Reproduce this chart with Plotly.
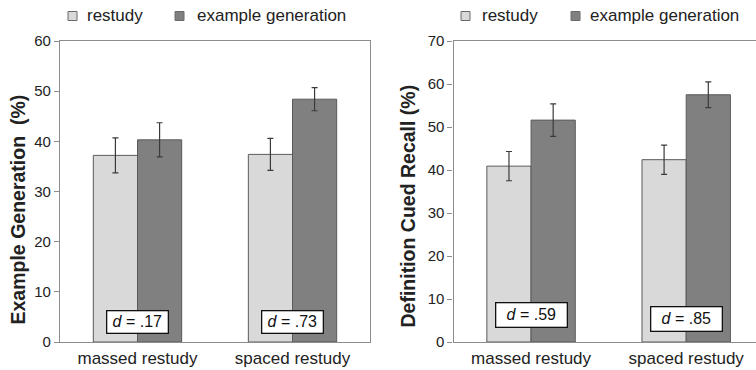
import plotly.graph_objects as go

categories = ["massed restudy", "spaced restudy"]
series_names = ["restudy", "example generation"]

gen_restudy = [37.2, 37.4]
gen_restudy_err = [3.5, 3.2]
gen_example = [40.3, 48.4]
gen_example_err = [3.4, 2.3]

rec_restudy = [40.9, 42.4]
rec_restudy_err = [3.4, 3.4]
rec_example = [51.6, 57.5]
rec_example_err = [3.8, 3.0]

gen_d_labels = ["<i>d</i> = .17", "<i>d</i> = .73"]
gen_d_y = [4.0, 4.0]
rec_d_labels = ["<i>d</i> = .59", "<i>d</i> = .85"]
rec_d_y = [6.3, 5.4]

y_titles = ["<b>Example Generation  (%)</b>", "<b>Definition Cued Recall (%)</b>"]

light = "#d9d9d9"
dark = "#808080"
edge = "#5a5a5a"
errc = "#3a3a3a"
font = "Liberation Sans, Arial, sans-serif"
txt = "#222222"

W, H = 756, 370
MT, MB = 41, 28
PH = H - MT - MB

def px_x(x):
    return x / W

def px_y(y):
    return (H - MB - y) / PH

fig = go.Figure()

def add_bar(x, y, err, name, color, xa, ya):
    fig.add_trace(go.Bar(
        x=x, y=y, name=name, marker=dict(color=color, line=dict(color=edge, width=1)),
        error_y=dict(type="data", array=err, color=errc, thickness=1.2, width=3),
        xaxis=xa, yaxis=ya, showlegend=False, hoverinfo="skip",
    ))

add_bar(categories, gen_restudy, gen_restudy_err, series_names[0], light, "x", "y")
add_bar(categories, gen_example, gen_example_err, series_names[1], dark, "x", "y")
add_bar(categories, rec_restudy, rec_restudy_err, series_names[0], light, "x2", "y2")
add_bar(categories, rec_example, rec_example_err, series_names[1], dark, "x2", "y2")

axis_line = dict(showline=True, linecolor="#8c8c8c", linewidth=1.3, showgrid=False, zeroline=False)
yticks = dict(ticks="outside", ticklen=5, tickcolor="#8c8c8c")

fig.update_layout(
    width=W, height=H,
    margin=dict(l=0, r=0, t=MT, b=MB, autoexpand=False),
    paper_bgcolor="white", plot_bgcolor="white",
    barmode="group", bargap=0.43, bargroupgap=0,
    font=dict(family=font, color=txt),
    showlegend=False,
    xaxis=dict(domain=[60/W, 370/W], range=[-0.5, 1.5], mirror=True, anchor="y", ticks="",
               tickfont=dict(size=17, color=txt), automargin=False, **axis_line),
    yaxis=dict(domain=[0, 1], range=[0, 60], dtick=10, mirror=True, anchor="x",
               tickfont=dict(size=15, color=txt), automargin=False, **axis_line, **yticks),
    xaxis2=dict(domain=[453.5/W, 1.0], range=[-0.5, 1.45], mirror=True, anchor="y2", ticks="",
                tickfont=dict(size=17, color=txt), automargin=False, **axis_line),
    yaxis2=dict(domain=[0, 1], range=[0, 70], dtick=10, mirror=False, anchor="x2",
                tickfont=dict(size=15, color=txt), automargin=False, **axis_line, **yticks),
)

# y-axis titles
for tx, ty, t in [(17.5, 210, y_titles[0]), (407, 206.5, y_titles[1])]:
    fig.add_annotation(xref="paper", yref="paper", x=px_x(tx), y=px_y(ty), text=t,
                       textangle=-90, xanchor="center", yanchor="middle", showarrow=False,
                       font=dict(size=19.5, color=txt, family=font))

# custom legends
legend_items = [
    (68, 85, light, series_names[0]), (175, 195, dark, series_names[1]),
    (461, 480, light, series_names[0]), (571, 588, dark, series_names[1]),
]
for sx, tx, col, name in legend_items:
    fig.add_shape(type="rect", xref="paper", yref="paper",
                  x0=px_x(sx), x1=px_x(sx + 9), y0=px_y(20.5), y1=px_y(11.5),
                  fillcolor=col, line=dict(color="#6a6a6a", width=1))
    fig.add_annotation(xref="paper", yref="paper", x=px_x(tx), y=px_y(15.5), text=name,
                       xanchor="left", yanchor="middle", showarrow=False,
                       font=dict(size=17, color=txt, family=font))

for i, (lab, yv) in enumerate(zip(gen_d_labels, gen_d_y)):
    fig.add_annotation(x=categories[i], y=yv, xref="x", yref="y", text=lab, showarrow=False,
                       font=dict(size=16, color="#111111", family=font), bgcolor="white",
                       bordercolor="#111111", borderwidth=1.3, borderpad=2, width=56)
for i, (lab, yv) in enumerate(zip(rec_d_labels, rec_d_y)):
    fig.add_annotation(x=categories[i], y=yv, xref="x2", yref="y2", text=lab, showarrow=False,
                       font=dict(size=16, color="#111111", family=font), bgcolor="white",
                       bordercolor="#111111", borderwidth=1.3, borderpad=3, width=64)

fig.write_html("out.html", config={"displayModeBar": False},
               post_script="document.body.style.margin='0';document.body.style.overflow='hidden';")
